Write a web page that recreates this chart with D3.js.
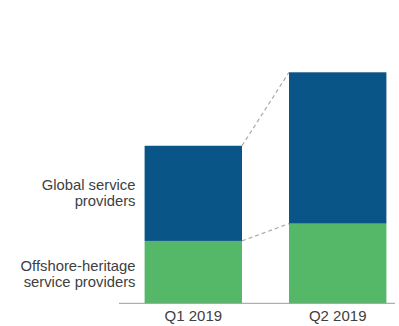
<!DOCTYPE html>
<html>
<head>
<meta charset="utf-8">
<script src="https://cdn.jsdelivr.net/npm/d3@7"></script>
<style>
  html, body { margin: 0; padding: 0; background: #fff; }
  svg { display: block; }
  text { font-family: "Liberation Sans", Arial, sans-serif; }
</style>
</head>
<body>
<svg id="chart" width="399" height="326"></svg>
<script>
// Quarters on the x axis
const quarters = ["Q1 2019", "Q2 2019"];
// Stacked segments, bottom to top
const seriesNames = ["Offshore-heritage service providers", "Global service providers"];
const offshoreValues = [27.0, 34.5];
const globalValues = [41.2, 65.5];
// Side labels, split into lines
const seriesLabelLines = [["Offshore-heritage", "service providers"], ["Global service", "providers"]];
const seriesColors = ["#55b868", "#0a5587"];

const svg = d3.select("#chart");
const baseY = 303.3;

const x = d3.scaleBand()
  .domain(quarters)
  .range([120, 411])
  .paddingInner(0.3255)
  .paddingOuter(0.1704);

const y = d3.scaleLinear()
  .domain([0, 100])
  .range([baseY, baseY - 231]);

const rows = quarters.map((q, i) => ({ quarter: q, offshore: offshoreValues[i], global: globalValues[i] }));
const stack = d3.stack().keys(["offshore", "global"]);
const layers = stack(rows);

// Bars
svg.append("g").selectAll("g")
  .data(layers)
  .join("g")
  .attr("fill", (d, i) => seriesColors[i])
  .selectAll("rect")
  .data(d => d)
  .join("rect")
  .attr("x", d => x(d.data.quarter))
  .attr("width", x.bandwidth())
  .attr("y", d => y(d[1]))
  .attr("height", d => y(d[0]) - y(d[1]));

// Dashed connectors between stack levels of adjacent bars
layers.forEach(layer => {
  for (let i = 0; i < layer.length - 1; i++) {
    svg.append("line")
      .attr("x1", x(layer[i].data.quarter) + x.bandwidth())
      .attr("y1", y(layer[i][1]))
      .attr("x2", x(layer[i + 1].data.quarter))
      .attr("y2", y(layer[i + 1][1]))
      .attr("stroke", "#aaaaaa")
      .attr("stroke-width", 1.2)
      .attr("stroke-dasharray", "4,3");
  }
});

// Baseline axis
const xAxis = d3.axisBottom(x).tickSize(0).tickPadding(7);
const axisG = svg.append("g")
  .attr("transform", `translate(0,${baseY})`)
  .call(xAxis);
axisG.select(".domain").remove();
axisG.append("line")
  .attr("x1", 119).attr("x2", 395)
  .attr("y1", 0).attr("y2", 0)
  .attr("stroke", "#9a9a9a")
  .attr("stroke-width", 1);
axisG.selectAll(".tick text")
  .attr("font-size", 15)
  .attr("fill", "#404040")
  .attr("font-family", "Liberation Sans, Arial, sans-serif");

// Series labels to the left of the first bar, centred on each segment
const first = layers.map(l => l[0]);
const labelShift = [7, 4.6];
seriesLabelLines.forEach((lines, i) => {
  const mid = (y(first[i][0]) + y(first[i][1])) / 2;
  const t = svg.append("text")
    .attr("text-anchor", "end")
    .attr("font-size", 14.8)
    .attr("fill", "#404040");
  lines.forEach((ln, j) => {
    t.append("tspan")
      .attr("x", 135.5)
      .attr("y", mid + (j - (lines.length - 1) / 2) * 16.5 + labelShift[i])
      .text(ln);
  });
});
</script>
</body>
</html>
